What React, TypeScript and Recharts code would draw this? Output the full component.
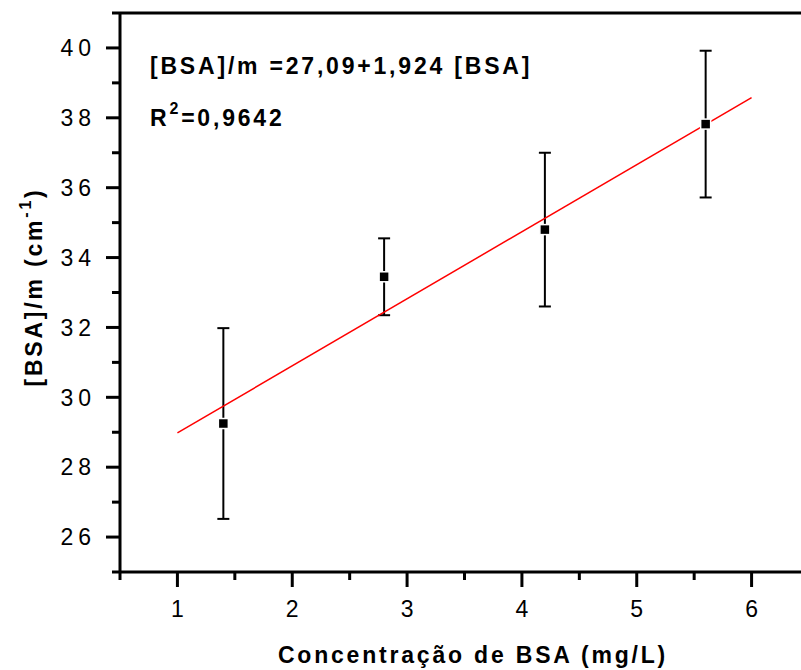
import React from "react";
import {
  ComposedChart,
  Scatter,
  Line,
  XAxis,
  YAxis,
  ErrorBar,
  ReferenceLine,
} from "recharts";

// BSA concentration (mg/L) and measured [BSA]/m (cm^-1) with error
const conc = [1.4, 2.8, 4.2, 5.6];
const ratio = [29.25, 33.45, 34.8, 37.82];
const ratioErr = [2.73, 1.1, 2.2, 2.1];

// linear fit endpoints as drawn
const fitX = [1, 6];
const fitY = [28.98, 38.58];

const xTicks = [0.5, 1, 1.5, 2, 2.5, 3, 3.5, 4, 4.5, 5, 5.5, 6, 6.5];
const yTicks = [25, 26, 27, 28, 29, 30, 31, 32, 33, 34, 35, 36, 37, 38, 39, 40, 41];

const FONT = "'Liberation Sans', Arial, Helvetica, sans-serif";

const points = conc.map((x, i) => ({ x, y: ratio[i], err: ratioErr[i] }));
const fitLine = fitX.map((x, i) => ({ x, fit: fitY[i] }));

function XTick(props: any) {
  const { x, y, payload } = props;
  const major = Number.isInteger(payload.value);
  return (
    <g>
      <line x1={x} x2={x} y1={y} y2={y + (major ? 15 : 8)} stroke="#000" strokeWidth={3} />
      {major && (
        <text x={x} y={y + 45} textAnchor="middle" fontFamily={FONT} fontSize={23} fill="#000">
          {payload.value}
        </text>
      )}
    </g>
  );
}

function YTick(props: any) {
  const { x, y, payload } = props;
  const major = payload.value % 2 === 0;
  return (
    <g>
      <line x1={x} x2={x - (major ? 14 : 8)} y1={y} y2={y} stroke="#000" strokeWidth={3} />
      {major && (
        <text
          x={x - 24}
          y={y}
          dy="0.36em"
          textAnchor="end"
          fontFamily={FONT}
          fontSize={23}
          letterSpacing={5}
          fill="#000"
        >
          {payload.value}
        </text>
      )}
    </g>
  );
}

function SquareDot(props: any) {
  const { cx, cy } = props;
  return <rect x={cx - 5} y={cy - 5} width={10} height={10} fill="#000" stroke="#fff" strokeWidth={1.5} />;
}

export default function App() {
  return (
    <div
      style={{
        position: "absolute",
        left: 0,
        top: 0,
        width: 801,
        height: 670,
        overflow: "hidden",
        background: "#fff",
      }}
    >
      <ComposedChart width={830} height={670} margin={{ top: 13, right: 21, bottom: 0, left: 0 }}>
        <XAxis
          type="number"
          dataKey="x"
          domain={[0.5, 6.5]}
          ticks={xTicks}
          interval={0}
          height={98}
          axisLine={{ stroke: "#000", strokeWidth: 3 }}
          tickLine={false}
          tickSize={0}
          tickMargin={0}
          tick={<XTick />}
        />
        <YAxis
          type="number"
          domain={[25, 41]}
          ticks={yTicks}
          interval={0}
          width={120}
          axisLine={{ stroke: "#000", strokeWidth: 3 }}
          tickLine={false}
          tickSize={0}
          tickMargin={0}
          tick={<YTick />}
        />
        <ReferenceLine y={41} stroke="#000" strokeWidth={3} />
        <Scatter data={points} dataKey="y" fill="#000" shape={<SquareDot />} isAnimationActive={false}>
          <ErrorBar dataKey="err" direction="y" width={6} stroke="#000" strokeWidth={2} />
        </Scatter>
        <Line
          data={fitLine}
          dataKey="fit"
          type="linear"
          stroke="#ff0000"
          strokeWidth={1.5}
          dot={false}
          activeDot={false}
          isAnimationActive={false}
        />
        <text x={150} y={74} fontFamily={FONT} fontSize={23} fontWeight="bold" letterSpacing={2.8} fill="#000">
          [BSA]/m =27,09+1,924 [BSA]
        </text>
        <text x={150} y={126} fontFamily={FONT} fontSize={23} fontWeight="bold" letterSpacing={2.8} fill="#000">
          R
          <tspan fontSize={16} dy={-12}>2</tspan>
          <tspan dy={12}>=0,9642</tspan>
        </text>
        <text
          x={473}
          y={663}
          textAnchor="middle"
          fontFamily={FONT}
          fontSize={23}
          fontWeight="bold"
          letterSpacing={2.8}
          fill="#000"
        >
          Concentração de BSA (mg/L)
        </text>
        <text
          transform="translate(42,287) rotate(-90)"
          textAnchor="middle"
          fontFamily={FONT}
          fontSize={23}
          fontWeight="bold"
          letterSpacing={2.8}
          fill="#000"
        >
          [BSA]/m (cm
          <tspan fontSize={16} dy={-11}>-1</tspan>
          <tspan dy={11}>)</tspan>
        </text>
      </ComposedChart>
    </div>
  );
}
